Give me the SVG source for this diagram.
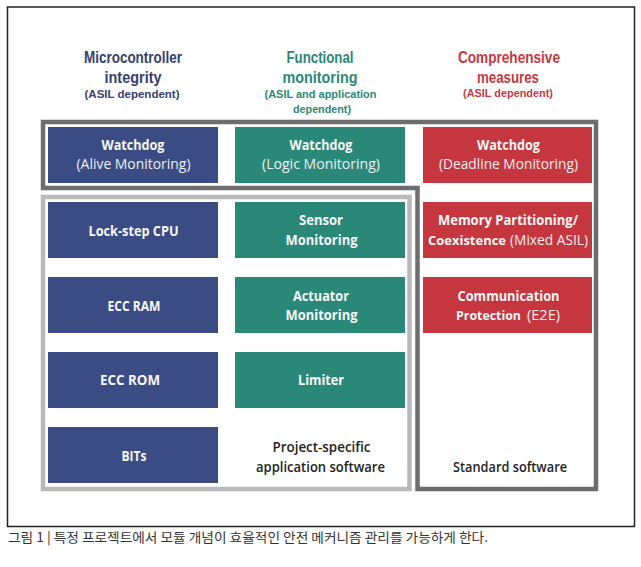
<svg xmlns="http://www.w3.org/2000/svg" width="641" height="567" viewBox="0 0 641 567">
<style>
text{font-family:"Open Sans","Liberation Sans",sans-serif;}
.hd{font-family:"Liberation Sans",Arial,sans-serif;font-size:16px;font-weight:700;text-anchor:middle;}
.sub{font-family:"Liberation Sans",Arial,sans-serif;font-size:11.5px;font-weight:700;text-anchor:middle;}
.b{font-size:14px;font-weight:700;fill:#f7f7f7;text-anchor:middle;}
.r{font-size:14px;font-weight:400;fill:#efefef;text-anchor:middle;}
.k{font-size:14px;font-weight:600;fill:#222;text-anchor:middle;}
.st{text-anchor:start;}
.sm{font-size:13px;}
.blue{fill:#3b4c85;}
.teal{fill:#2a8878;}
.red{fill:#c5363f;}
.hblue{fill:#363f6d;}
.hteal{fill:#2a8878;}
.hred{fill:#c8363f;}
.cap{font-family:"Noto Sans CJK KR",sans-serif;font-size:13px;font-weight:400;fill:#333333;}
</style>
<rect width="641" height="567" fill="#ffffff"/>
<rect x="7.5" y="7" width="627" height="519.5" fill="none" stroke="#222" stroke-width="1.5"/>

<g id="headers">
<text class="hd hblue" x="133" y="63" textLength="98" lengthAdjust="spacingAndGlyphs">Microcontroller</text>
<text class="hd hblue" x="133" y="82.5" textLength="57" lengthAdjust="spacingAndGlyphs">integrity</text>
<text class="sub hblue" x="132" y="97.5" textLength="95" lengthAdjust="spacingAndGlyphs">(ASIL dependent)</text>
<text class="hd hteal" x="320" y="63" textLength="67" lengthAdjust="spacingAndGlyphs">Functional</text>
<text class="hd hteal" x="320" y="82.5" textLength="75" lengthAdjust="spacingAndGlyphs">monitoring</text>
<text class="sub hteal" x="320.5" y="97.5" textLength="112" lengthAdjust="spacingAndGlyphs">(ASIL and application</text>
<text class="sub hteal" x="322" y="112.5" textLength="58" lengthAdjust="spacingAndGlyphs">dependent)</text>
<text class="hd hred" x="509" y="62.5" textLength="102" lengthAdjust="spacingAndGlyphs">Comprehensive</text>
<text class="hd hred" x="508" y="82.5" textLength="62" lengthAdjust="spacingAndGlyphs">measures</text>
<text class="sub hred" x="508" y="97" textLength="90" lengthAdjust="spacingAndGlyphs">(ASIL dependent)</text>
</g>

<g id="frames" fill="none">
<path d="M43,122 H596 V489 H417.5 V188 H43 Z" stroke="#6d6d6d" stroke-width="4.5"/>
<rect x="43" y="197" width="366.5" height="292" stroke="#b9b9b9" stroke-width="4.5"/>
</g>

<g id="connectors"></g>

<g id="wd-alive"><rect class="blue" x="48" y="127" width="170" height="56"/>
<text class="b" x="133" y="149.5" textLength="63" lengthAdjust="spacingAndGlyphs">Watchdog</text>
<text class="r" x="133.5" y="169" textLength="114" lengthAdjust="spacingAndGlyphs">(Alive Monitoring)</text></g>
<g id="wd-logic"><rect class="teal" x="235" y="127" width="170" height="56"/>
<text class="b" x="321" y="149.5" textLength="63" lengthAdjust="spacingAndGlyphs">Watchdog</text>
<text class="r" x="321" y="169" textLength="118" lengthAdjust="spacingAndGlyphs">(Logic Monitoring)</text></g>
<g id="wd-deadline"><rect class="red" x="423" y="127" width="169" height="56"/>
<text class="b" x="508.5" y="149.5" textLength="63" lengthAdjust="spacingAndGlyphs">Watchdog</text>
<text class="r" x="508.5" y="169" textLength="139" lengthAdjust="spacingAndGlyphs">(Deadline Monitoring)</text></g>

<g id="lockstep"><rect class="blue" x="48" y="202" width="170" height="56"/>
<text class="b" x="133.5" y="235.5" textLength="90" lengthAdjust="spacingAndGlyphs">Lock-step CPU</text></g>
<g id="sensor"><rect class="teal" x="235" y="202" width="170" height="56"/>
<text class="b" x="321" y="225" textLength="44" lengthAdjust="spacingAndGlyphs">Sensor</text>
<text class="b" x="321.5" y="245" textLength="72" lengthAdjust="spacingAndGlyphs">Monitoring</text></g>
<g id="memory"><rect class="red" x="423" y="202" width="169" height="56"/>
<text class="b" x="508" y="225" textLength="140" lengthAdjust="spacingAndGlyphs">Memory Partitioning/</text>
<text class="b st sm" x="428" y="245" textLength="78" lengthAdjust="spacingAndGlyphs">Coexistence</text>
<text class="r st" x="510" y="245" textLength="78" lengthAdjust="spacingAndGlyphs">(Mixed ASIL)</text></g>

<g id="eccram"><rect class="blue" x="48" y="277" width="170" height="56"/>
<text class="b" x="134" y="310.5" textLength="53" lengthAdjust="spacingAndGlyphs">ECC RAM</text></g>
<g id="actuator"><rect class="teal" x="235" y="277" width="170" height="56"/>
<text class="b" x="321" y="300.5" textLength="56" lengthAdjust="spacingAndGlyphs">Actuator</text>
<text class="b" x="321.5" y="320" textLength="72" lengthAdjust="spacingAndGlyphs">Monitoring</text></g>
<g id="comm"><rect class="red" x="423" y="277" width="169" height="56"/>
<text class="b" x="508.5" y="300.5" textLength="102" lengthAdjust="spacingAndGlyphs">Communication</text>
<text class="b st sm" x="456" y="320" textLength="65" lengthAdjust="spacingAndGlyphs">Protection</text>
<text class="r st" x="527" y="320" textLength="33" lengthAdjust="spacingAndGlyphs">(E2E)</text></g>

<g id="eccrom"><rect class="blue" x="48" y="352" width="170" height="56"/>
<text class="b" x="130" y="385" textLength="60" lengthAdjust="spacingAndGlyphs">ECC ROM</text></g>
<g id="limiter"><rect class="teal" x="235" y="352" width="170" height="56"/>
<text class="b" x="321" y="385" textLength="46" lengthAdjust="spacingAndGlyphs">Limiter</text></g>

<g id="bits"><rect class="blue" x="48" y="427" width="170" height="56"/>
<text class="b" x="134" y="460.5" textLength="25" lengthAdjust="spacingAndGlyphs">BITs</text></g>
<g id="project-sw">
<text class="k" x="321.5" y="451.5" textLength="98" lengthAdjust="spacingAndGlyphs">Project-specific</text>
<text class="k" x="320.5" y="471.5" textLength="129" lengthAdjust="spacingAndGlyphs">application software</text></g>
<g id="standard-sw">
<text class="k" x="510" y="471.5" textLength="114" lengthAdjust="spacingAndGlyphs">Standard software</text></g>

<text class="cap" x="8" y="542" textLength="480" lengthAdjust="spacingAndGlyphs">그림 1 | 특정 프로젝트에서 모듈 개념이 효율적인 안전 메커니즘 관리를 가능하게 한다.</text>
</svg>
